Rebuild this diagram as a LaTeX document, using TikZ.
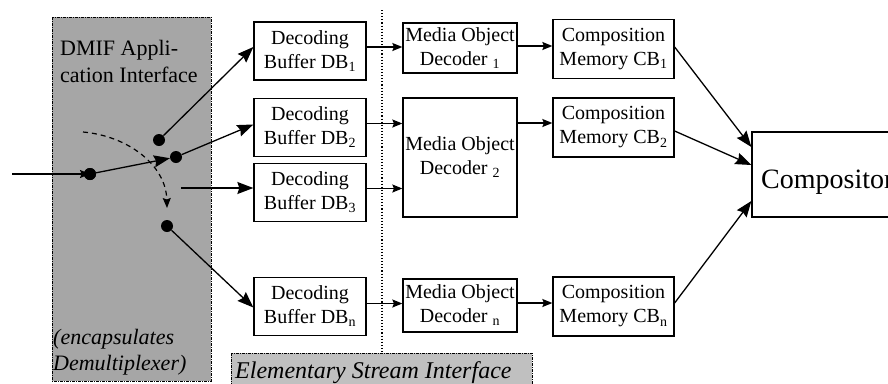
\documentclass[tikz,border=0pt]{standalone}
\usepackage{fontspec}
\setmainfont{Liberation Serif}
\usetikzlibrary{arrows.meta}
\definecolor{dmifgray}{RGB}{166,166,166}
\definecolor{esigray}{RGB}{192,192,192}
\begin{document}
\begin{tikzpicture}[x=1pt,y=-1pt,
  boxtext/.style={font=\fontsize{20}{24}\selectfont},
  blk/.style={draw,line width=1.3pt,rectangle,inner sep=0pt,align=center,boxtext},
  dbbox/.style={blk,minimum width=112pt,minimum height=58pt},
  modbox/.style={blk,minimum width=114pt},
  cbbox/.style={blk,minimum width=121pt,minimum height=59pt},
  dot/.style={circle,fill=black,inner sep=0pt,minimum size=12pt},
  bigarr/.style={line width=1.3pt,-{Stealth[length=16pt,width=12pt,inset=2pt]}},
  smallarr/.style={line width=1.3pt,-{Stealth[length=10pt,width=8pt,inset=1.5pt]}},
  ifbox/.style={draw,line width=0.9pt,dash pattern=on 3pt off 1pt on 1pt off 1pt},
]
\useasboundingbox (0,0) rectangle (888,383);
% interface regions
\draw[ifbox,fill=dmifgray] (52,17) rectangle (211,381);
\draw[ifbox,fill=esigray] (231,353) rectangle (532,395);
\draw[line width=1.1pt,dotted] (382,10) -- (382,353);
% texts in interface regions
\node[anchor=base west,inner sep=0pt,font=\fontsize{22}{26}\selectfont] (dmifa) at (60,55) {DMIF Appli-};
\node[anchor=base west,inner sep=0pt,font=\fontsize{22}{26}\selectfont] (dmifb) at (60,82) {cation Interface};
\node[anchor=base west,inner sep=0pt,font=\fontsize{22}{26}\selectfont\itshape] (enca) at (53,344) {(encapsulates};
\node[anchor=base west,inner sep=0pt,font=\fontsize{22}{26}\selectfont\itshape] (encb) at (53,370) {Demultiplexer)};
\node[anchor=base west,inner sep=0pt,font=\fontsize{24}{28}\selectfont\itshape] (esi) at (235,378) {Elementary Stream Interface};
% decoding buffers
\node[dbbox] (db1) at (310,51) {Decoding\\Buffer DB\textsubscript{1}};
\node[dbbox] (db2) at (310,127.5) {Decoding\\Buffer DB\textsubscript{2}};
\node[dbbox] (db3) at (310,192.5) {Decoding\\Buffer DB\textsubscript{3}};
\node[dbbox] (dbn) at (310,306.5) {Decoding\\Buffer DB\textsubscript{n}};
% decoders
\node[modbox,minimum height=50pt] (mod1) at (460,48) {Media Object\\Decoder \textsubscript{1}};
\node[modbox,minimum height=119pt] (mod2) at (460,157.5) {Media Object\\Decoder \textsubscript{2}};
\node[modbox,minimum height=53pt] (modn) at (460,305.5) {Media Object\\Decoder \textsubscript{n}};
% composition memories
\node[cbbox] (cb1) at (613.5,49) {Composition\\Memory CB\textsubscript{1}};
\node[cbbox] (cb2) at (613.5,127.5) {Composition\\Memory CB\textsubscript{2}};
\node[cbbox] (cbn) at (613.5,306.5) {Composition\\Memory CB\textsubscript{n}};
% compositor
\node[draw,line width=1.3pt,minimum width=150pt,minimum height=85pt,inner sep=0pt] (comp) at (827,174.5) {};
\node[anchor=base west,inner sep=0pt,font=\fontsize{28}{32}\selectfont] (comptext) at (761,188) {Compositor};
% switch dots
\coordinate (in) at (12,174);
\coordinate (s3) at (181,188);
\coordinate (sw0) at (83,132);
\coordinate (sw1) at (167,208);
\draw[line width=1.2pt,dash pattern=on 5pt off 4pt,-{Stealth[length=10pt,width=8pt,inset=1.5pt]}] (sw0) .. controls (128,136) and (166,165) .. (sw1);
\node[dot] (d0) at (90,174) {};
\node[dot] (d1) at (159,140) {};
\node[dot] (d2) at (176,157) {};
\node[dot] (d3) at (167,226) {};
\draw[smallarr] (in) -- (d0.center);
\node[dot] at (d0) {};
\draw[bigarr] (d0) -- (d2);
\draw[bigarr] (d1) -- ([yshift=4pt]db1.west);
\draw[bigarr] (d2) -- ([yshift=3pt]db2.west);
\draw[bigarr] (s3) -- (s3 -| db3.west);
\draw[bigarr] (d3) -- ([yshift=-1pt]dbn.west);
% buffers to decoders
\draw[smallarr] ([yshift=4pt]db1.east) -- ([yshift=4pt]db1.east -| mod1.west);
\draw[smallarr] ([yshift=4pt]db2.east) -- ([yshift=4pt]db2.east -| mod2.west);
\draw[smallarr] ([yshift=4pt]db3.east) -- ([yshift=4pt]db3.east -| mod2.west);
\draw[smallarr] ([yshift=3pt]dbn.east) -- ([yshift=3pt]dbn.east -| modn.west);
% decoders to memories
\draw[smallarr] ([yshift=2pt]mod1.east) -- ([yshift=2pt]mod1.east -| cb1.west);
\draw[smallarr] ([yshift=34.5pt]mod2.east) -- ([yshift=34.5pt]mod2.east -| cb2.west);
\draw[smallarr] ([yshift=2.5pt]modn.east) -- ([yshift=2.5pt]modn.east -| cbn.west);
% memories to compositor
\draw[bigarr] ([yshift=2pt]cb1.east) -- ([yshift=27.5pt]comp.west);
\draw[bigarr] ([yshift=-3.5pt]cb2.east) -- ([yshift=9.5pt]comp.west);
\draw[bigarr] ([yshift=3.5pt]cbn.east) -- ([yshift=-26.5pt]comp.west);
\end{tikzpicture}
\end{document}
